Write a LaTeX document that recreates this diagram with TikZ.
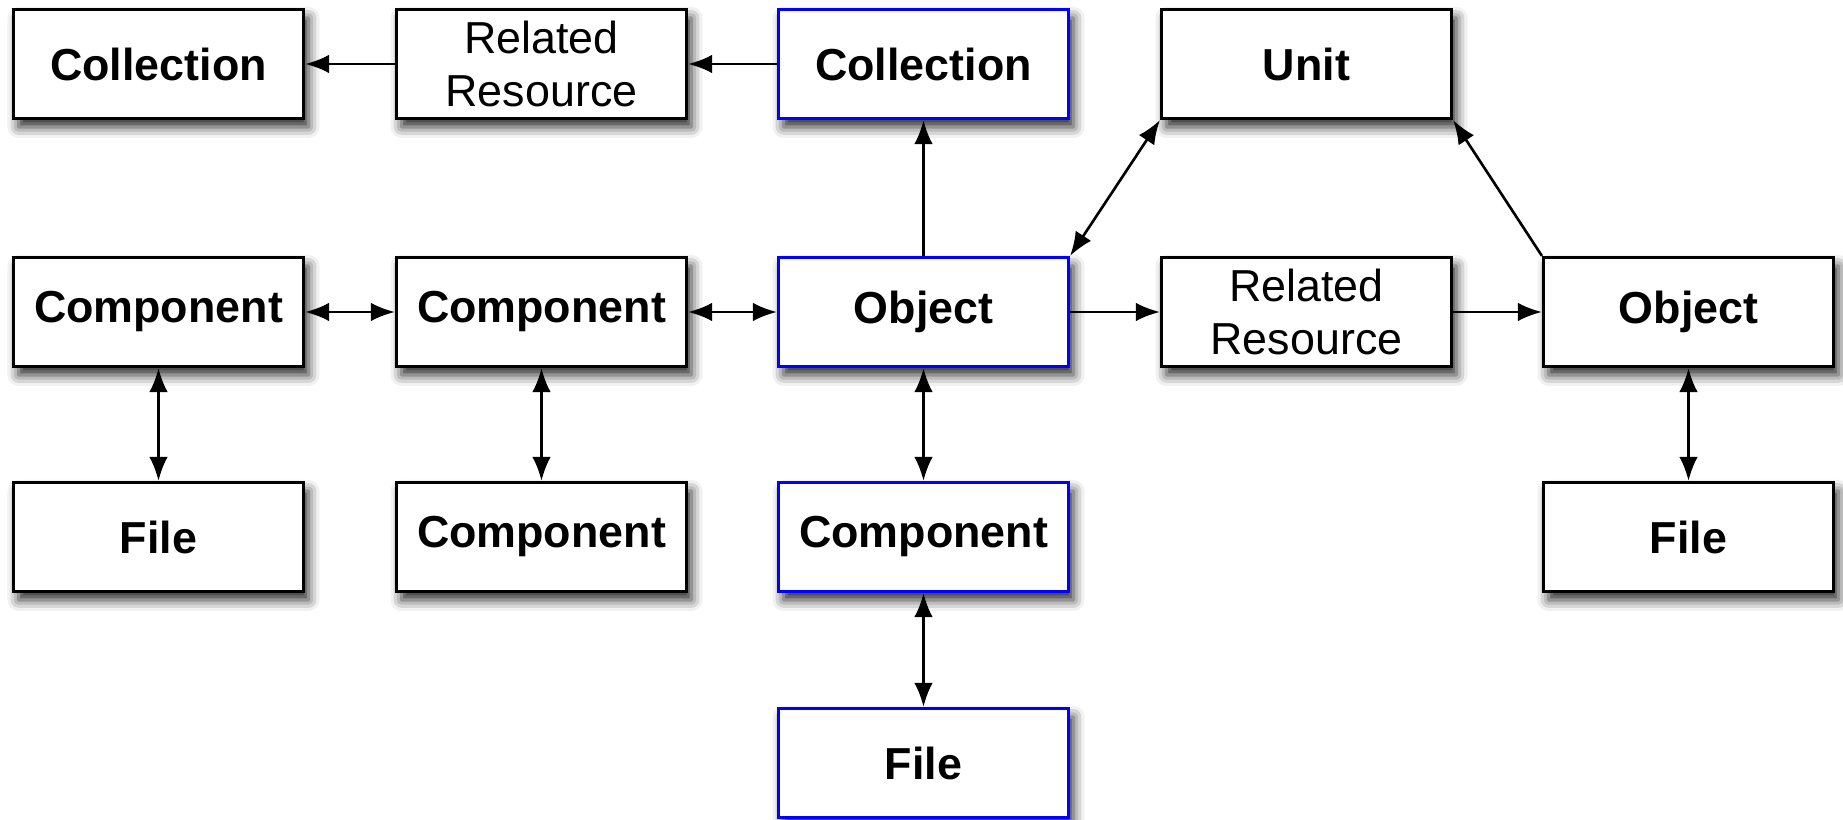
\documentclass[tikz,border=0pt]{standalone}
\usepackage{fontspec}
\setmainfont{Liberation Sans}
\usetikzlibrary{arrows.meta,shadows.blur}

\tikzset{
    box/.style={draw, line width=1.8pt, fill=white, minimum width=5.8cm,
        minimum height=2.18cm, align=center, inner sep=0pt,
        font=\fontsize{25.5}{29.6}\selectfont,
        blur shadow={shadow xshift=0.1cm, shadow yshift=-0.17cm,
            shadow blur radius=0.22cm, shadow opacity=85}},
    bbox/.style={box, font=\fontsize{25.5}{29.6}\selectfont\bfseries},
    blue box/.style={bbox, draw=blue},
    link/.style={line width=1.5pt, -{Latex[length=0.48cm,width=0.37cm]}},
    both/.style={link, {Latex[length=0.48cm,width=0.37cm]}-{Latex[length=0.48cm,width=0.37cm]}}
}

\begin{document}
\begin{tikzpicture}
    \useasboundingbox (0,0) rectangle (36.86,16.4);

    % top row
    \node[bbox] (coll) at (3.17,15.12) {Collection};
    \node[box] (relres) at (10.83,15.12) {Related\\Resource};
    \node[blue box] (objcoll) at (18.47,15.12) {Collection};
    \node[bbox] (unit) at (26.13,15.12) {Unit};

    % middle row
    \node[bbox] (compa) at (3.17,10.16) {Component};
    \node[bbox] (compb) at (10.83,10.16) {Component};
    \node[blue box] (obj) at (18.47,10.16) {Object};
    \node[box] (objres) at (26.13,10.16) {Related\\Resource};
    \node[bbox] (relobj) at (33.77,10.16) {Object};

    % lower rows
    \node[bbox] (filea) at (3.17,5.66) {File};
    \node[bbox] (compc) at (10.83,5.66) {Component};
    \node[blue box] (objcomp) at (18.47,5.66) {Component};
    \node[bbox] (relfile) at (33.77,5.66) {File};
    \node[blue box] (objfile) at (18.47,1.14) {File};

    % connectors
    \draw[link] (relres) -- (coll);
    \draw[link] (objcoll) -- (relres);
    \draw[link] (obj) -- (objcoll);
    \draw[both] (obj.north east) -- (unit.south west);
    \draw[link] (relobj.north west) -- (unit.south east);
    \draw[link] (obj) -- (objres);
    \draw[link] (objres) -- (relobj);

    \draw[both] (compa) -- (compb);
    \draw[both] (compb) -- (obj);
    \draw[both] (compa) -- (filea);
    \draw[both] (compb) -- (compc);
    \draw[both] (obj) -- (objcomp);
    \draw[both] (relobj) -- (relfile);
    \draw[both] (objcomp) -- (objfile);

\end{tikzpicture}
\end{document}
